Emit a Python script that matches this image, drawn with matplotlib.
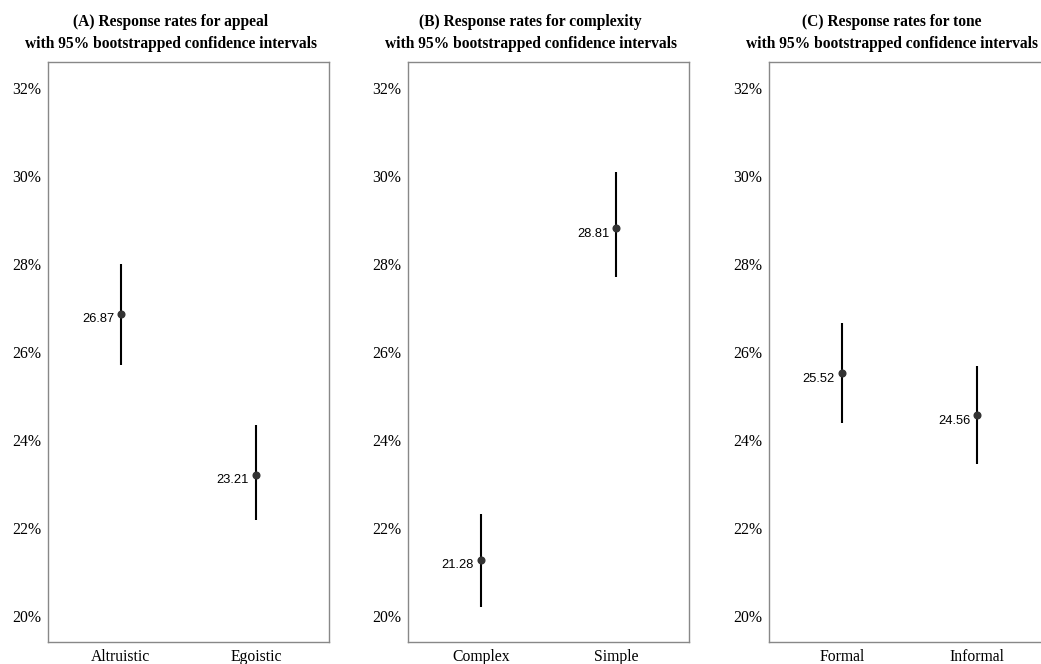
import matplotlib.pyplot as plt
from matplotlib.ticker import FuncFormatter

# Данные по трём панелям
titles = [
    "(A) Response rates for appeal\nwith 95% bootstrapped confidence intervals",
    "(B) Response rates for complexity\nwith 95% bootstrapped confidence intervals",
    "(C) Response rates for tone\nwith 95% bootstrapped confidence intervals",
]
categories = [["Altruistic", "Egoistic"], ["Complex", "Simple"], ["Formal", "Informal"]]
rates = [[26.87, 23.21], [21.28, 28.81], [25.52, 24.56]]
ci_low = [[25.70, 22.18], [20.20, 27.70], [24.39, 23.45]]
ci_high = [[28.00, 24.34], [22.32, 30.09], [26.66, 25.68]]
yticks = [20, 22, 24, 26, 28, 30, 32]

serif = "Liberation Serif"
sans = "Liberation Sans"

fig = plt.figure(figsize=(10.41, 6.64), dpi=100)
lefts = [0.0461, 0.392, 0.7387]
for i in range(3):
    ax = fig.add_axes([lefts[i], 0.0331, 0.270, 0.8735])
    x = list(range(1, len(categories[i]) + 1))
    ax.vlines(x, ci_low[i], ci_high[i], color="black", linewidth=1.5, zorder=2)
    ax.plot(x, rates[i], "o", color="#333333", markersize=4.8, zorder=3)
    for xi, v in zip(x, rates[i]):
        ax.annotate(f"{v:.2f}", (xi, v), xytext=(-5, -4), textcoords="offset points",
                    ha="right", va="center", fontsize=9.3, family=sans)
    ax.set_xlim(0.46, 2.54)
    ax.set_ylim(19.41, 32.59)
    ax.set_xticks(x)
    ax.set_xticklabels(categories[i], fontfamily=serif, fontsize=11.3)
    ax.set_yticks(yticks)
    ax.yaxis.set_major_formatter(FuncFormatter(lambda v, p: f"{v:.0f}%"))
    for lab in ax.get_yticklabels():
        lab.set_fontfamily(serif)
        lab.set_fontsize(11.3)
    ax.tick_params(length=0, pad=5)
    for sp in ax.spines.values():
        sp.set_color("#888888")
        sp.set_linewidth(1.0)
    ax.set_title(titles[i], fontfamily=serif, fontweight="bold", fontsize=11.2, pad=10,
                 linespacing=1.5)
    ax.title.set_x(0.436)

fig.savefig("out.png", dpi=100)
